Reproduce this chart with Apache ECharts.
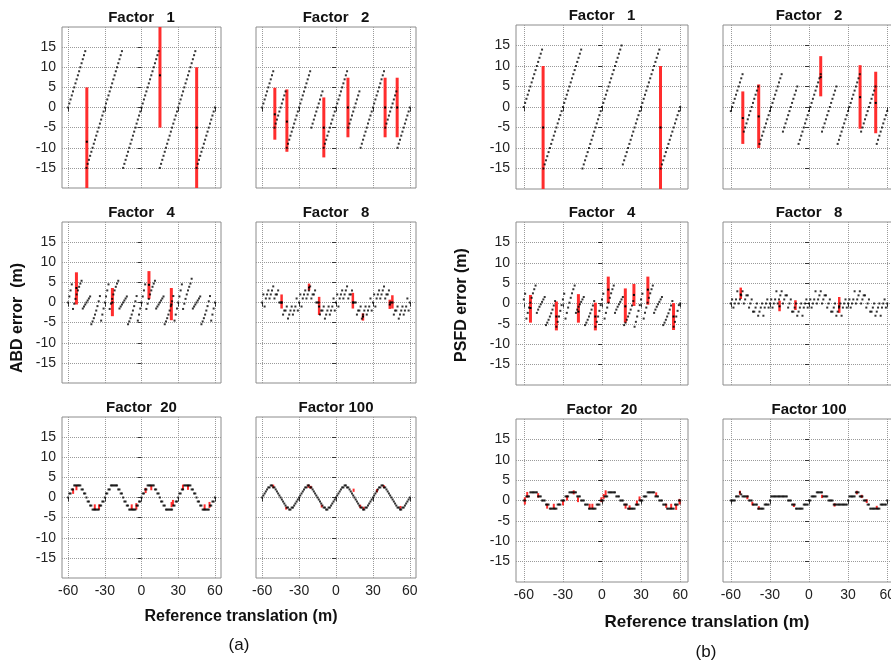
<!DOCTYPE html>
<html>
<head>
<meta charset="utf-8">
<script src="https://cdn.jsdelivr.net/npm/echarts@6/dist/echarts.min.js"></script>
<style>
html, body { margin: 0; padding: 0; background: #fff; }
#chart { width: 891px; height: 661px; }
</style>
</head>
<body>
<div id="chart"></div>
<script>
// reference translation (m), one sample per metre
var translation = [-60,-59,-58,-57,-56,-55,-54,-53,-52,-51,-50,-49,-48,-47,-46,-45,-44,-43,-42,-41,
  -40,-39,-38,-37,-36,-35,-34,-33,-32,-31,-30,-29,-28,-27,-26,-25,-24,-23,-22,-21,
  -20,-19,-18,-17,-16,-15,-14,-13,-12,-11,-10,-9,-8,-7,-6,-5,-4,-3,-2,-1,
  0,1,2,3,4,5,6,7,8,9,10,11,12,13,14,15,16,17,18,19,
  20,21,22,23,24,25,26,27,28,29,30,31,32,33,34,35,36,37,38,39,
  40,41,42,43,44,45,46,47,48,49,50,51,52,53,54,55,56,57,58,59,60];

var xTicks = [-60, -30, 0, 30, 60];
var yTicks = [-15, -10, -5, 0, 5, 10, 15];

// ABD error (m)
var abdF1 = [0,1,2,3,4,5,6,7,8,9,10,11,12,13,14,
  -15,-14,-13,-12,-11,-10,-9,-8,-7,-6,-5,-4,-3,-2,-1,0,1,2,3,4,5,6,7,8,9,10,11,12,13,14,
  -15,-14,-13,-12,-11,-10,-9,-8,-7,-6,-5,-4,-3,-2,-1,0,1,2,3,4,5,6,7,8,9,10,11,12,13,14,
  -15,-14,-13,-12,-11,-10,-9,-8,-7,-6,-5,-4,-3,-2,-1,0,1,2,3,4,5,6,7,8,9,10,11,12,13,14,
  -15,-14,-13,-12,-11,-10,-9,-8,-7,-6,-5,-4,-3,-2,-1,0];
var abdF2 = [0,1,2,3,4,5,6,7,8,9,
  -5,-4,-3,-2,-1,0,1,2,3,4,
  -10,-9,-8,-7,-6,-5,-4,-3,-2,-1,0,1,2,3,4,5,6,7,8,9,
  -5,-4,-3,-2,-1,0,1,2,3,4,
  -10,-9,-8,-7,-6,-5,-4,-3,-2,-1,0,1,2,3,4,5,6,7,8,9,
  -5,-4,-3,-2,-1,0,1,2,3,4,
  -10,-9,-8,-7,-6,-5,-4,-3,-2,-1,0,1,2,3,4,5,6,7,8,9,
  -5,-4,-3,-2,-1,0,1,2,3,4,
  -10,-9,-8,-7,-6,-5,-4,-3,-2,-1,0];
var abdF4 = [0,1.5,3,4.5,-1.6,-0.3,0.9,2,3,3.9,4.7,5.4,-1.5,-1,-0.5,0,0.5,1,1.5,-5.4,-4.7,-3.9,-3,-2,-0.9,0.3,1.6,-4.5,-3,-1.5,
  0,1.5,3,4.5,-1.6,-0.3,0.9,2,3,3.9,4.7,5.4,-1.5,-1,-0.5,0,0.5,1,1.5,-5.4,-4.7,-3.9,-3,-2,-0.9,0.3,1.6,-4.5,-3,-1.5,
  0,1.5,3,4.5,-1.6,-0.3,0.9,2,3,3.9,4.7,5.4,-1.5,-1,-0.5,0,0.5,1,1.5,-5.4,-4.7,-3.9,-3,-2,-0.9,0.3,1.6,-4.5,-3,-1.5,
  0,1.5,3,4.5,-1.6,-0.3,0.9,2,3,3.9,4.7,5.9,-1.5,-1,-0.5,0,0.5,1,1.5,-5.4,-4.7,-3.9,-3,-2,-0.9,0.3,1.6,-4.5,-3,-1.5,0];
var abdF8 = [0,2,-1,1,2,3,1,2,3,4,1,2,2,3,0,0,0,-3,-2,-2,-1,-4,-3,-2,-1,-3,-2,-1,1,-2,
  0,2,-1,1,2,3,1,2,3,4,1,2,2,3,0,0,0,-3,-2,-2,-1,-4,-3,-2,-1,-3,-2,-1,1,-2,
  0,2,-1,1,2,3,1,2,3,4,1,2,2,3,0,0,0,-3,-2,-2,-1,-4,-3,-2,-1,-3,-2,-1,1,-2,
  0,2,-1,1,2,3,1,2,3,4,1,2,2,3,0,0,0,-3,-2,-2,-1,-4,-3,-2,-1,-3,-2,-1,1,-2,0];
var abdF20 = [0,1,1,2,2,3,3,3,3,3,3,2,2,1,1,0,-1,-1,-2,-2,-3,-3,-3,-3,-3,-3,-2,-2,-1,-1,
  0,1,1,2,2,3,3,3,3,3,3,2,2,1,1,0,-1,-1,-2,-2,-3,-3,-3,-3,-3,-3,-2,-2,-1,-1,
  0,1,1,2,2,3,3,3,3,3,3,2,2,1,1,0,-1,-1,-2,-2,-3,-3,-3,-3,-3,-3,-2,-2,-1,-1,
  0,1,1,2,2,3,3,3,3,3,3,2,2,1,1,0,-1,-1,-2,-2,-3,-3,-3,-3,-3,-3,-2,-2,-1,-1,0];
var abdF100 = [0,0.5,1,1.5,2,2.5,2.5,3,3,2.5,2.5,2,1.5,1,0.5,0,-0.5,-1,-1.5,-2,-2.5,-2.5,-3,-3,-2.5,-2.5,-2,-1.5,-1,-0.5,
  0,0.5,1,1.5,2,2.5,2.5,3,3,2.5,2.5,2,1.5,1,0.5,0,-0.5,-1,-1.5,-2,-2.5,-2.5,-3,-3,-2.5,-2.5,-2,-1.5,-1,-0.5,
  0,0.5,1,1.5,2,2.5,2.5,3,3,2.5,2.5,2,1.5,1,0.5,0,-0.5,-1,-1.5,-2,-2.5,-2.5,-3,-3,-2.5,-2.5,-2,-1.5,-1,-0.5,
  0,0.5,1,1.5,2,2.5,2.5,3,3,2.5,2.5,2,1.5,1,0.5,0,-0.5,-1,-1.5,-2,-2.5,-2.5,-3,-3,-2.5,-2.5,-2,-1.5,-1,-0.5,0];

// PSFD error (m)
var psfdF1 = [0,1,2,3,4,5,6,7,8,9,10,11,12,13,14,
  -15,-14,-13,-12,-11,-10,-9,-8,-7,-6,-5,-4,-3,-2,-1,0,1,2,3,4,5,6,7,8,9,10,11,12,13,14,
  -15,-14,-13,-12,-11,-10,-9,-8,-7,-6,-5,-4,-3,-2,-1,0,1,2,3,4,5,6,7,8,9,10,11,12,13,14,15,
  -14,-13,-12,-11,-10,-9,-8,-7,-6,-5,-4,-3,-2,-1,0,1,2,3,4,5,6,7,8,9,10,11,12,13,14,
  -15,-14,-13,-12,-11,-10,-9,-8,-7,-6,-5,-4,-3,-2,-1,0];
var psfdF2 = [-1,0,1,2,3,4,5,6,7,8,
  -6,-5,-4,-3,-2,-1,0,1,2,3,4,5,
  -9,-8,-7,-6,-5,-4,-3,-2,-1,0,1,2,3,4,5,6,7,8,
  -6,-5,-4,-3,-2,-1,0,1,2,3,4,5,
  -9,-8,-7,-6,-5,-4,-3,-2,-1,0,1,2,3,4,5,6,7,8,
  -6,-5,-4,-3,-2,-1,0,1,2,3,4,5,
  -9,-8,-7,-6,-5,-4,-3,-2,-1,0,1,2,3,4,5,6,7,8,
  -6,-5,-4,-3,-2,-1,0,1,2,3,4,5,
  -9,-8,-7,-6,-5,-4,-3,-2,-1];
var psfdF4 = [1,2.4,-3.7,-2.3,-1,0.2,1.4,2.5,3.5,4.4,-2.3,-1.5,-0.8,-0.2,0.4,1,1.6,-5.3,-4.7,-4,-3.2,-2.4,-1.5,-0.5,0.6,-5.7,-4.5,-3.2,-1.8,-0.4,
  1,2.4,-3.7,-2.3,-1,0.2,1.4,2.5,3.5,4.4,-2.3,-1.5,-0.8,-0.2,0.4,1,1.6,-5.3,-4.7,-4,-3.2,-2.4,-1.5,-0.5,0.6,-5.7,-4.5,-3.2,-1.8,-0.4,
  1,2.4,-3.7,-2.3,-1,0.2,1.4,2.5,3.5,4.4,-2.3,-1.5,-0.8,-0.2,0.4,1,1.6,-5.3,-4.7,-4,-3.2,-2.4,-1.5,-0.5,0.6,-5.7,-4.5,-3.2,-1.8,-0.4,
  1,2.4,-3.7,-2.3,-1,0.2,1.4,2.5,3.5,4.4,-2.3,-1.5,-0.8,-0.2,0.4,1,1.6,-5.3,-4.7,-4,-3.2,-2.4,-1.5,-0.5,0.6,-5.7,-4.5,-3.2,-1.8,-0.4,0];
var psfdF8 = [0,1,-1,0,1,3,0,1,2,3,0,1,2,2,-1,0,1,-2,-2,-1,0,-3,-2,-1,0,-3,-1,0,1,-1,
  0,1,-1,0,1,3,0,1,2,3,0,1,2,2,-1,0,1,-2,-2,-1,0,-3,-2,-1,0,-3,-1,0,1,-1,
  0,1,-1,0,1,3,0,1,2,3,0,1,2,2,-1,0,1,-2,-2,-1,0,-3,-2,-1,0,-3,-1,0,1,-1,
  0,1,-1,0,1,3,0,1,2,3,0,1,2,2,-1,0,1,-2,-2,-1,0,-3,-2,-1,0,-3,-1,0,1,-1,0];
var psfdF20 = [0,0,1,1,1,2,2,2,2,2,2,1,1,1,0,0,0,-1,-1,-1,-2,-2,-2,-2,-2,-2,-1,-1,-1,0,
  0,0,1,1,1,2,2,2,2,2,2,1,1,1,0,0,0,-1,-1,-1,-2,-2,-2,-2,-2,-2,-1,-1,-1,0,
  0,0,1,1,1,2,2,2,2,2,2,1,1,1,0,0,0,-1,-1,-1,-2,-2,-2,-2,-2,-2,-1,-1,-1,0,
  0,0,1,1,1,2,2,2,2,2,2,1,1,1,0,0,0,-1,-1,-1,-2,-2,-2,-2,-2,-2,-1,-1,-1,0,0];
var psfdF100 = [0,0,0,0,1,1,1,2,1.5,1,1,1,1,1,0,0,0,-1,-1,-1,-1,-2,-2,-2,-2,-2,-1,-1,-1,-1,
  0,1,1,1,1,1,1,1,1,1,1,1,1,1,0,0,0,-1,-1,-1,-2,-2,-2,-2,-2,-2,-1,-1,-1,-1,
  0,0,1,1,1,1,2,2,2,2,2,1,1,1,1,0,0,0,0,-1,-1,-1,-1,-1,-1,-1,-1,-1,-1,-1,
  0,1,1,1,1,1,2,2,2,1,1,1,0,0,0,-1,-1,-2,-2,-2,-2,-2,-2,-2,-2,-1,-1,-1,-1,-1,0];

// red spread bars: [translation, low, high, centre]
var abdF1Red = [[-44.7, -20, 5, -8.5], [15.1, -5, 20, 8], [45.1, -20, 10, -5]];
var abdF2Red = [[-49.7, -8, 4.9, -1.7], [-39.9, -11, 4.5, -3.5], [-9.9, -12.4, 2.5, -5],
  [9.7, -7.4, 7.4, 0], [39.9, -7.4, 7.4, 0], [49.7, -7.4, 7.4, 0]];
var abdF4Red = [[-53.2, -0.5, 7.5, 3.6], [-23.8, -3.4, 3.6, 0], [6.1, 0.9, 7.8, 4.4], [24.4, -4.4, 3.6, -0.5]];
var abdF8Red = [[-44.2, -1.5, 2, 0], [-21.9, 3, 4.7, 3.7], [-13.7, -3.1, 1.4, -1], [13.7, -1.5, 2.4, 0],
  [21.9, -4.5, -2.7, -3.5], [43.7, -1.6, 0.7, -0.5], [45.8, -1.5, 1.8, null]];
var abdF20Red = [[-55.9, 0.9, 2.2, null], [-53.2, 1.8, 3, null], [-38.2, -3, -1.7, null], [-34.7, -3, -1.7, null],
  [-8, -3, -1.7, null], [-4.2, -3, -1.4, null], [3.4, 1.1, 2.4, null], [8, 1.8, 3, null],
  [24.6, -2.4, -1.1, null], [25.7, -2, -0.6, null], [33.9, 1.9, 3.2, null], [38, 1.9, 3, null],
  [51.6, -3, -1.7, null], [55.6, -2.6, -1.1, null]];
var abdF100Red = [[-51, 2.4, 3.2, null], [-40.5, -3, -2.3, null], [-22.4, 2.4, 3.2, null], [-20.5, 2.2, 2.9, null],
  [-11.6, -2.5, -1.8, null], [14.3, 1.4, 2.2, null], [19.7, -2.6, -1.8, null], [22.4, -3, -2.3, null],
  [33.3, 1.3, 2.1, null], [38.8, 2.4, 3.1, null], [52.4, -2.8, -2.1, null]];

var psfdF1Red = [[-45.2, -20, 10, -5], [44.9, -20, 10, -5]];
var psfdF2Red = [[-50.8, -9, 3.8, -2.7], [-38.6, -10, 5.5, -2.3], [9, 2.6, 12.4, 7.3],
  [39.2, -5.3, 10.2, 2.4], [51.2, -6.4, 8.6, 1]];
var psfdF4Red = [[-54.9, -4.7, 2.1, -1.1], [-35, -6.6, 0.5, -3.2], [-18.1, -4.7, 2.3, -2], [-5.1, -6.6, 0.2, -3.2],
  [4.8, 0.1, 6.6, 3.4], [17.9, -4.7, 3.7, -0.7], [24.5, -0.6, 4.8, 2.1], [35.2, -0.3, 6.6, 3.4], [54.9, -6.5, 0.1, -3.2]];
var psfdF8Red = [[-52.4, 1.1, 3.9, 2.2], [-22.6, -1.9, 0.7, -0.7], [-10.4, -1.6, 0.8, null], [23.2, -2.3, 1.6, -0.7]];
var psfdF20Red = [[-59.2, -1, 0.8, null], [-57.4, 0.7, 2.1, null], [-49, 0.7, 1.8, null], [-42.1, -2, -0.8, null],
  [-37, -2, -0.8, null], [-29.9, -1.2, 0, null], [-26.8, 0, 1.2, null], [-21.7, 1.5, 2.5, null],
  [-18.4, -0.4, 0.8, null], [-9.5, -2, -0.8, null], [-7.4, -2, -0.8, null], [-0.5, -0.4, 0.8, null],
  [1.3, 0.4, 1.6, null], [2.8, 1.2, 2.5, null], [18.1, -2, -0.8, null], [21.2, -2.3, -1.2, null],
  [26.8, -1.2, 0, null], [28.8, 0, 1, null], [41.6, 1, 2, null], [49.3, -1.8, -0.8, null],
  [53.1, -2, -0.8, null], [56.9, -2.3, -1, null], [59.5, -1, 0.4, null]];
var psfdF100Red = [[-53, 1.4, 2.4, null], [-47.3, 0.3, 1.2, null], [-43.5, -1.2, -0.3, null], [-38.5, -2.2, -1.4, null],
  [-11.6, -1.6, -0.8, null], [10, 0.6, 1.4, null], [19.6, -1.5, -0.7, null], [36.7, 1.5, 2.4, null],
  [40.5, 0.6, 1.4, null], [44.3, -0.6, 0.3, null], [52, -2.1, -1.3, null]];

var panels = [
  { title: 'Factor   1', err: abdF1, red: abdF1Red, box: [62, 27, 159, 161], xr: 65, ylab: true, xlab: false, rw: 3 },
  { title: 'Factor   2', err: abdF2, red: abdF2Red, box: [256, 27, 160, 161], xr: 65, ylab: false, xlab: false, rw: 3 },
  { title: 'Factor   4', err: abdF4, red: abdF4Red, box: [62, 222, 159, 161], xr: 65, ylab: true, xlab: false, rw: 3 },
  { title: 'Factor   8', err: abdF8, red: abdF8Red, box: [256, 222, 160, 161], xr: 65, ylab: false, xlab: false, rw: 2.5 },
  { title: 'Factor  20', err: abdF20, red: abdF20Red, box: [62, 417, 159, 161], xr: 65, ylab: true, xlab: true, rw: 2 },
  { title: 'Factor 100', err: abdF100, red: abdF100Red, box: [256, 417, 160, 161], xr: 65, ylab: false, xlab: true, rw: 2 },
  { title: 'Factor   1', err: psfdF1, red: psfdF1Red, box: [516, 25, 172, 164], xr: 66, ylab: true, xlab: false, rw: 3 },
  { title: 'Factor   2', err: psfdF2, red: psfdF2Red, box: [723, 25, 172, 164], xr: 66, ylab: false, xlab: false, rw: 3 },
  { title: 'Factor   4', err: psfdF4, red: psfdF4Red, box: [516, 222, 172, 163], xr: 66, ylab: true, xlab: false, rw: 3 },
  { title: 'Factor   8', err: psfdF8, red: psfdF8Red, box: [723, 222, 172, 163], xr: 66, ylab: false, xlab: false, rw: 2.5 },
  { title: 'Factor  20', err: psfdF20, red: psfdF20Red, box: [516, 419, 172, 163], xr: 66, ylab: true, xlab: true, rw: 2 },
  { title: 'Factor 100', err: psfdF100, red: psfdF100Red, box: [723, 419, 172, 163], xr: 66, ylab: false, xlab: true, rw: 2 }
];

var font = 'Arial, "Liberation Sans", sans-serif';
var option = { animation: false, grid: [], xAxis: [], yAxis: [], series: [], graphic: [] };

function txt(x, y, text, size, bold, rot) {
  return {
    type: 'text', x: x, y: y, rotation: rot || 0, silent: true,
    style: {
      text: text, fill: '#111', font: (bold ? 'bold ' : '') + size + 'px ' + font,
      align: 'center', verticalAlign: 'middle', textAlign: 'center', textVerticalAlign: 'middle'
    }
  };
}

panels.forEach(function (p, k) {
  option.grid.push({
    left: p.box[0], top: p.box[1], width: p.box[2], height: p.box[3],
    show: true, borderColor: '#8c8c8c', borderWidth: 1, outerBoundsMode: 'none', containLabel: false
  });
  option.xAxis.push({
    gridIndex: k, type: 'value', min: -p.xr, max: p.xr,
    axisLine: { show: false },
    axisTick: { show: true, inside: false, length: 4, customValues: xTicks, lineStyle: { color: '#333' } },
    axisLabel: { show: p.xlab, customValues: xTicks, margin: 6, fontSize: 14, color: '#222', fontFamily: font },
    splitLine: { show: true, lineStyle: { color: '#9a9a9a', type: 'dotted', width: 1 } }
  });
  option.yAxis.push({
    gridIndex: k, type: 'value', min: -20, max: 20,
    axisLine: { show: false },
    axisTick: { show: true, inside: false, length: 4, customValues: yTicks, lineStyle: { color: '#333' } },
    axisLabel: { show: p.ylab, customValues: yTicks, margin: 6, fontSize: 14, color: '#222', fontFamily: font },
    splitLine: { show: true, lineStyle: { color: '#9a9a9a', type: 'dotted', width: 1 } }
  });
  option.series.push({
    type: 'scatter', xAxisIndex: k, yAxisIndex: k, silent: true, clip: false,
    symbol: 'rect', symbolSize: [2, 2], itemStyle: { color: '#000' },
    data: translation.map(function (t, i) { return [t, p.err[i]]; })
  });
  option.series.push({
    type: 'custom', xAxisIndex: k, yAxisIndex: k, silent: true,
    data: p.red,
    renderItem: function (params, api) {
      var x = api.value(0);
      var a = api.coord([x, api.value(1)]);
      var b = api.coord([x, api.value(2)]);
      var kids = [{
        type: 'line', shape: { x1: a[0], y1: a[1], x2: b[0], y2: b[1] },
        style: { stroke: '#ff2d2d', lineWidth: p.rw }
      }];
      var m = api.value(3);
      if (m !== null && !isNaN(m)) {
        var c = api.coord([x, m]);
        kids.push({ type: 'rect', shape: { x: c[0] - 1, y: c[1] - 1, width: 2, height: 2 }, style: { fill: '#000' } });
      }
      return { type: 'group', children: kids };
    }
  });
  option.graphic.push(txt(p.box[0] + p.box[2] / 2, p.box[1] - 9, p.title, 15, true));
});

option.graphic.push(txt(18, 318, 'ABD error  (m)', 16, true, Math.PI / 2));
option.graphic.push(txt(462, 305, 'PSFD error (m)', 16, true, Math.PI / 2));
option.graphic.push(txt(241, 617, 'Reference translation (m)', 16, true));
option.graphic.push(txt(707, 622, 'Reference translation (m)', 17, true));
option.graphic.push(txt(239, 645, '(a)', 17, false));
option.graphic.push(txt(706, 652, '(b)', 17, false));

var chart = echarts.init(document.getElementById('chart'), null, { renderer: 'canvas' });
chart.setOption(option);
</script>
</body>
</html>
